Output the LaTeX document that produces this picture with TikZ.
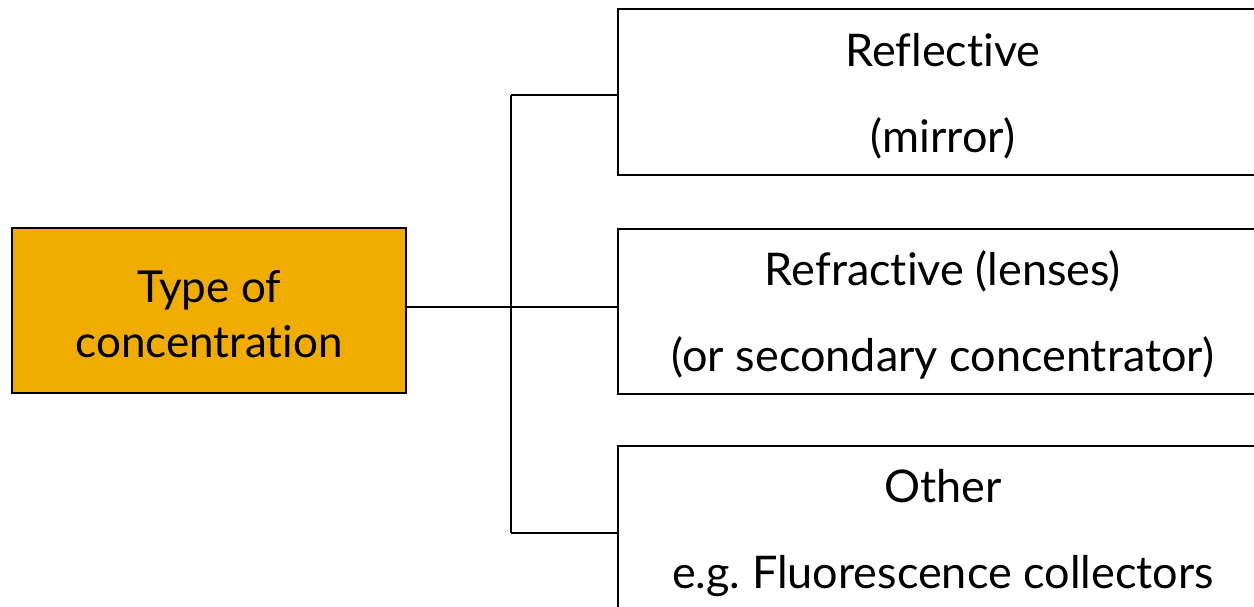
\documentclass[tikz,border=0pt]{standalone}
\usepackage{fontspec}
\setmainfont{Lato}[RawFeature=-liga]
\frenchspacing
\definecolor{boxorange}{HTML}{F0AC00}
\tikzset{
  rootbox/.style={draw=black, line width=1.8pt, fill=boxorange, minimum width=394pt, minimum height=165pt, inner sep=0pt},
  leafbox/.style={draw=black, line width=1.8pt, fill=white, minimum width=650pt, minimum height=166pt, inner sep=0pt},
  roottext/.style={align=center, inner sep=0pt, yshift=-3.5pt, font=\fontsize{44}{55}\selectfont},
  leaftext/.style={align=center, inner sep=0pt, yshift=-4pt, font=\fontsize{45}{86}\selectfont},
  link/.style={line width=1.5pt, black}
}
\begin{document}
\begin{tikzpicture}[x=1pt,y=-1pt]
\useasboundingbox (0,0) rectangle (1254,607);
\clip (0,0) rectangle (1254,607);
% root on the left
\node[rootbox] (root) at (209,310.5) {};
\node[roottext] (roottxt) at (root.center) {Type of\\concentration};
% three categories on the right
\node[leafbox, anchor=north west] (refl) at (617,8) {};
\node[leafbox, anchor=north west, minimum height=165pt] (refr) at (617,228) {};
\node[leafbox, anchor=north west] (other) at (617,445) {};
\node[leaftext] (refltxt) at (refl.center) {Reflective\\(mirror)};
\node[leaftext, yshift=0.5pt] (refrtxt) at (refr.center) {Refractive (lenses)\\(or secondary concentrator)};
\node[leaftext] (othertxt) at (other.center) {Other\\e.g. Fluorescence collectors};
% tree connectors
\coordinate (fork) at (511,307);
\coordinate (forktop) at (511,95);
\coordinate (forkend) at (511,533);
\draw[link] (root.east |- fork) -- (fork);
\draw[link] (forktop) -- (forkend);
\draw[link] (forktop) -- (refl.west |- forktop);
\draw[link] (fork) -- (refr.west |- fork);
\draw[link] (forkend) -- (other.west |- forkend);
\end{tikzpicture}
\end{document}
